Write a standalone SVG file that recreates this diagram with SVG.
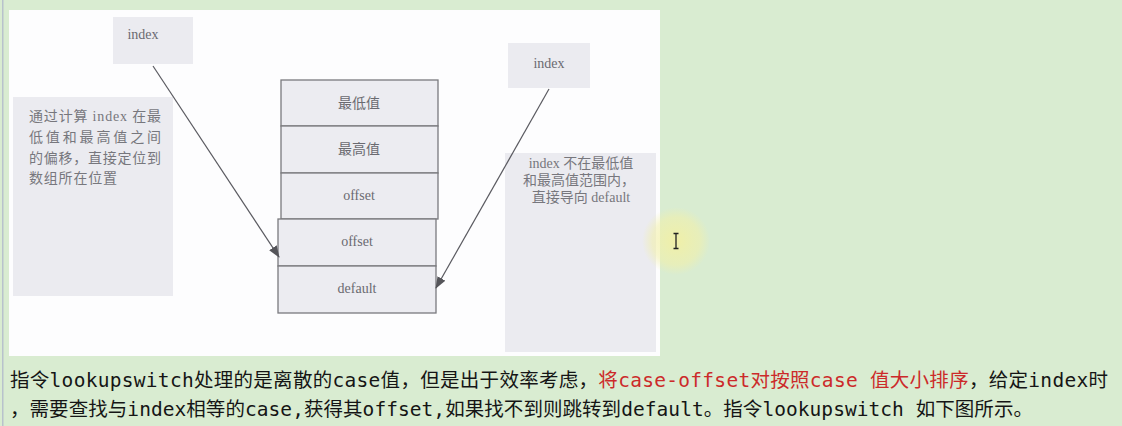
<svg xmlns="http://www.w3.org/2000/svg" width="1122" height="426" viewBox="0 0 1122 426">
<style>
.bg{fill:#d9ecd1}
.paper{fill:#fdfdfe}
.grey{fill:#ebebf0}
.cell{fill:#ececf1;stroke:#7a7a7e;stroke-width:1.3}
.lbl{font-family:"Liberation Serif","Noto Sans CJK SC",serif;font-size:14px;fill:#6a6a70}
.note{font-family:"Liberation Serif","Noto Sans CJK SC",serif;font-size:14px;fill:#77777d}
.conn{stroke:#5a5a60;stroke-width:1.2;fill:none}
.body{font-family:"DejaVu Sans Mono","Noto Sans CJK SC",monospace;font-size:19.5px;fill:#151515}
.red{fill:#cc2a2a}
</style>
<defs>
<marker id="ah" viewBox="0 0 12 10" refX="11" refY="5" markerWidth="12" markerHeight="10" markerUnits="userSpaceOnUse" orient="auto">
<path d="M0,0.5 L12,5 L0,9.5 Z" fill="#55555a"/>
</marker>
<radialGradient id="glow" cx="0.5" cy="0.5" r="0.5">
<stop offset="0" stop-color="#f4f0a0" stop-opacity="0.85"/>
<stop offset="0.7" stop-color="#f2f0a8" stop-opacity="0.55"/>
<stop offset="1" stop-color="#f2f0a8" stop-opacity="0"/>
</radialGradient>
</defs>
<rect class="bg" x="0" y="0" width="1122" height="426"/>
<rect x="2" y="0" width="1.5" height="426" fill="#b8c2cc"/>
<rect class="paper" x="9" y="10" width="651" height="346"/>

<g id="index-top">
<rect class="grey" x="113" y="17" width="80" height="47"/>
<text class="lbl" x="143" y="39" text-anchor="middle">index</text>
</g>
<g id="note-left">
<rect class="grey" x="13" y="97" width="160" height="199"/>
<text class="note" x="29" y="121" textLength="132" lengthAdjust="spacing">通过计算 index 在最</text>
<text class="note" x="29" y="142" textLength="132" lengthAdjust="spacing">低值和最高值之间</text>
<text class="note" x="29" y="163" textLength="132" lengthAdjust="spacing">的偏移，直接定位到</text>
<text class="note" x="29" y="183" textLength="88" lengthAdjust="spacing">数组所在位置</text>
</g>
<g id="table">
<rect class="cell" x="281" y="80" width="157" height="46"/>
<text class="lbl" x="359" y="108" text-anchor="middle">最低值</text>
<rect class="cell" x="281" y="126" width="157" height="47"/>
<text class="lbl" x="359" y="154" text-anchor="middle">最高值</text>
<rect class="cell" x="281" y="173" width="157" height="46"/>
<text class="lbl" x="359" y="200" text-anchor="middle">offset</text>
<rect class="cell" x="278" y="219" width="158" height="47"/>
<text class="lbl" x="357" y="246" text-anchor="middle">offset</text>
<rect class="cell" x="278" y="266" width="158" height="47"/>
<text class="lbl" x="357" y="293" text-anchor="middle">default</text>
</g>
<g id="index-right">
<rect class="grey" x="508" y="43" width="82" height="45"/>
<text class="lbl" x="549" y="68" text-anchor="middle">index</text>
</g>
<g id="note-right">
<rect class="grey" x="505" y="153" width="151" height="199"/>
<text class="note" x="581" y="168" text-anchor="middle">index 不在最低值</text>
<text class="note" x="579" y="185" text-anchor="middle">和最高值范围内，</text>
<text class="note" x="581" y="202" text-anchor="middle">直接导向 default</text>
</g>
<g id="connectors">
<line class="conn" x1="153" y1="66" x2="279" y2="257" marker-end="url(#ah)"/>
<line class="conn" x1="549" y1="89" x2="436" y2="288" marker-end="url(#ah)"/>
</g>
<g id="cursor">
<circle cx="676" cy="241" r="34" fill="url(#glow)"/>
<path d="M673.5,233.5 H678.5 M676,233.5 V248.5 M673.5,248.5 H678.5" stroke="#222" stroke-width="1.3" fill="none"/>
</g>
<g id="caption">
<text class="body" x="10" y="387" textLength="1098" lengthAdjust="spacing">指令lookupswitch处理的是离散的case值，但是出于效率考虑，<tspan class="red">将case-offset对按照case 值大小排序</tspan>，给定index时</text>
<text class="body" x="10" y="416" textLength="1023" lengthAdjust="spacing">，需要查找与index相等的case,获得其offset,如果找不到则跳转到default。指令lookupswitch 如下图所示。</text>
</g>
</svg>
